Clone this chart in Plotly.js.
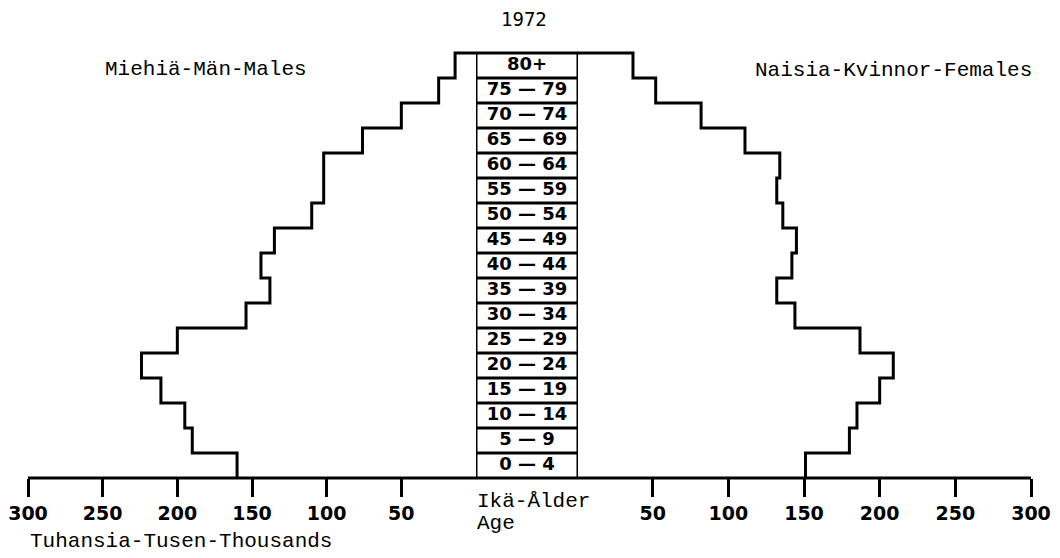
<!DOCTYPE html>
<html>
<head>
<meta charset="utf-8">
<script src="https://cdn.plot.ly/plotly-3.0.1.min.js"></script>
<style>html,body{margin:0;padding:0;background:#fff;}#chart{width:1060px;height:558px;}</style>
</head>
<body>
<div id="chart"></div>
<script>
// Age groups, bottom to top
const ageGroups = ["0 — 4","5 — 9","10 — 14","15 — 19","20 — 24","25 — 29","30 — 34","35 — 39","40 — 44","45 — 49","50 — 54","55 — 59","60 — 64","65 — 69","70 — 74","75 — 79","80+"];
// Thousands
const males   = [160,190,195,211,224,200,154,138,144,135,110,102,102,76,50,25,14];
const females = [151,180,185,200,209,187,144,132,142,145,136,132,134,111,82,52,37];
const tickValues = [50,100,150,200,250,300];
const tickLabels = ["50","100","150","200","250","300"];

const W = 1060;
const n = ageGroups.length;

function stepPath(vals){
  const xs = [0], ys = [n];
  for (let i = n-1; i >= 0; i--){ xs.push(vals[i]); ys.push(i); }
  return {xs, ys};
}
const mp = stepPath(males), fp = stepPath(females);

const lineStyle = {color:'#000', width:3, shape:'hv'};
const traces = [
  {type:'scatter', mode:'lines', x:mp.xs, y:mp.ys, xaxis:'x', yaxis:'y', line:lineStyle, hoverinfo:'skip', cliponaxis:false},
  {type:'scatter', mode:'lines', x:fp.xs, y:fp.ys, xaxis:'x2', yaxis:'y', line:lineStyle, hoverinfo:'skip', cliponaxis:false},
  {type:'scatter', mode:'text', x:ageGroups.map(()=>0.5), y:ageGroups.map((_,i)=>i+0.5), text:ageGroups,
   xaxis:'x3', yaxis:'y', textposition:'middle center', cliponaxis:false,
   textfont:{family:'DejaVu Sans', size:18, color:'#000', weight:'bold'}, hoverinfo:'skip'}
];

const tickFont = {family:'DejaVu Sans', size:19, color:'#000', weight:'bold'};
const axisCommon = {
  tickvals:tickValues, ticktext:tickLabels, ticks:'outside', ticklen:18, tickwidth:3, tickcolor:'#000',
  showgrid:false, zeroline:false, showline:false, tickfont:tickFont, anchor:'free', position:5/435,
  fixedrange:true
};

const shapes = [];
// base axis line across whole chart
shapes.push({type:'line', xref:'paper', yref:'y', x0:28/W, x1:1031/W, y0:0, y1:0, line:{color:'#000', width:3}});
// age box verticals
shapes.push({type:'line', xref:'x3', yref:'y', x0:0, x1:0, y0:0, y1:n, line:{color:'#000', width:3}});
shapes.push({type:'line', xref:'x3', yref:'y', x0:1, x1:1, y0:0, y1:n, line:{color:'#000', width:3}});
// row separators
for (let i = 1; i <= n; i++){
  shapes.push({type:'line', xref:'x3', yref:'y', x0:0, x1:1, y0:i, y1:i, line:{color:'#000', width:3}});
}

const typeFont = {family:'Liberation Mono', size:21, color:'#000'};
const py = p => (483 - p)/435;
const annotations = [
  {text:'1972', xref:'paper', yref:'paper', x:524/W, y:py(19), showarrow:false, xanchor:'center', yanchor:'middle',
   font:{family:'DejaVu Sans Mono', size:19, color:'#000'}},
  {text:'Miehiä-Män-Males', xref:'paper', yref:'paper', x:103/W, y:py(69), showarrow:false, xanchor:'left', yanchor:'middle', font:typeFont},
  {text:'Naisia-Kvinnor-Females', xref:'paper', yref:'paper', x:753/W, y:py(71), showarrow:false, xanchor:'left', yanchor:'middle', font:typeFont},
  {text:'Ikä-Ålder', xref:'paper', yref:'paper', x:475/W, y:py(501), showarrow:false, xanchor:'left', yanchor:'middle', font:typeFont},
  {text:'Age', xref:'paper', yref:'paper', x:475/W, y:py(523), showarrow:false, xanchor:'left', yanchor:'middle', font:typeFont},
  {text:'Tuhansia-Tusen-Thousands', xref:'paper', yref:'paper', x:28/W, y:py(541), showarrow:false, xanchor:'left', yanchor:'middle', font:typeFont}
];

const layout = {
  width:1060, height:558,
  margin:{l:0, r:0, t:48, b:75, pad:0},
  paper_bgcolor:'#fff', plot_bgcolor:'#fff',
  showlegend:false,
  xaxis: Object.assign({domain:[28/W, 476/W], range:[300,0]}, axisCommon),
  xaxis2: Object.assign({domain:[577/W, 1031/W], range:[0,300]}, axisCommon),
  xaxis3: {domain:[476/W, 578/W], range:[0,1], visible:false, anchor:'y', fixedrange:true},
  yaxis: {domain:[0,1], range:[-0.2, n+0.2], visible:false, fixedrange:true},
  shapes, annotations
};

Plotly.newPlot('chart', traces, layout, {displayModeBar:false, staticPlot:true});
</script>
</body>
</html>
